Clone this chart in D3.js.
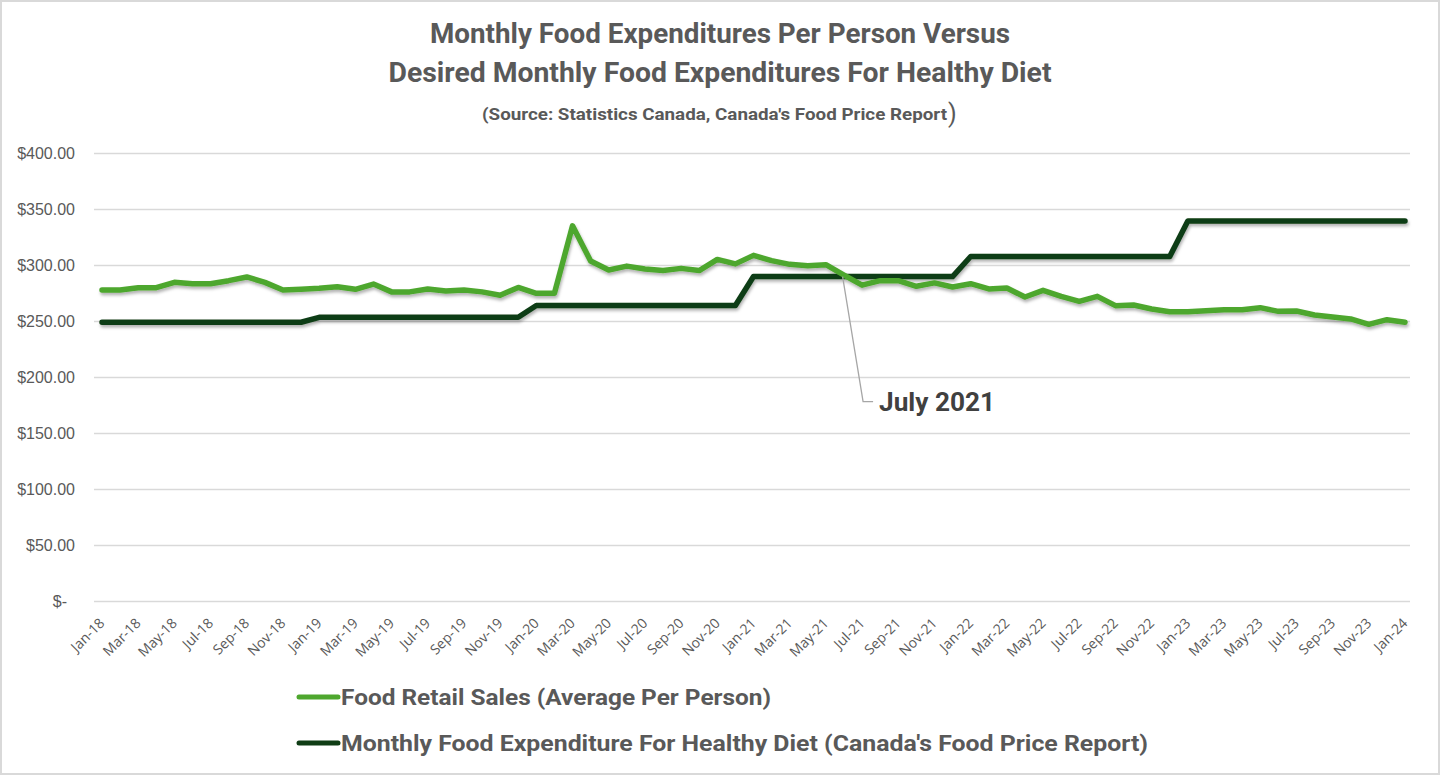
<!DOCTYPE html>
<html>
<head>
<meta charset="utf-8">
<script src="https://cdn.jsdelivr.net/npm/d3@7"></script>
<style>
  html, body { margin: 0; padding: 0; background: #ffffff; }
  svg { display: block; }
</style>
</head>
<body>
<svg id="chart" width="1440" height="775"></svg>
<script>
// ---------------- DATA ----------------
const titleLines = [
  "Monthly Food Expenditures Per Person Versus",
  "Desired Monthly Food Expenditures For Healthy Diet"
];
const subtitle = "(Source: Statistics Canada, Canada's Food Price Report";

// Monthly categories Jan-18 .. Jan-24
const months = d3.timeMonths(new Date(2018, 0, 1), new Date(2024, 1, 1)).map(d3.timeFormat("%b-%y"));

// Food Retail Sales (Average Per Person), $ per month
const retailSales = [
  277.7, 277.7, 279.7, 279.7, 284.5, 283.3, 283.3, 286.0, 289.3, 284.5, 277.7, 278.3,
  279.2, 280.6, 278.3, 283.0, 276.0, 276.0, 278.6, 276.8, 277.7, 276.0, 273.0, 280.0,
  274.7, 274.7, 335.0, 303.6, 295.5, 299.0, 296.4, 295.0, 297.0, 295.0, 305.0, 301.0,
  308.6, 303.9, 300.6, 299.4, 300.3, 291.0, 282.0, 286.0, 286.0, 281.0, 284.0, 280.4,
  283.3, 278.6, 279.5, 271.4, 277.4, 272.0, 267.6, 272.0, 263.7, 264.3, 260.7, 258.3,
  258.3, 259.2, 260.1, 260.1, 261.9, 258.6, 258.9, 255.4, 253.6, 251.8, 247.0, 251.2,
  248.8
];

// Monthly Food Expenditure For Healthy Diet (Canada's Food Price Report), $ per month
const healthyDiet = [
  248.9, 248.9, 248.9, 248.9, 248.9, 248.9, 248.9, 248.9, 248.9, 248.9, 248.9, 248.9,
  253.3, 253.3, 253.3, 253.3, 253.3, 253.3, 253.3, 253.3, 253.3, 253.3, 253.3, 253.3,
  263.9, 263.9, 263.9, 263.9, 263.9, 263.9, 263.9, 263.9, 263.9, 263.9, 263.9, 263.9,
  289.7, 289.7, 289.7, 289.7, 289.7, 289.7, 289.7, 289.7, 289.7, 289.7, 289.7, 289.7,
  307.6, 307.6, 307.6, 307.6, 307.6, 307.6, 307.6, 307.6, 307.6, 307.6, 307.6, 307.6,
  339.3, 339.3, 339.3, 339.3, 339.3, 339.3, 339.3, 339.3, 339.3, 339.3, 339.3, 339.3,
  339.3
];

const yTicks = [0, 50, 100, 150, 200, 250, 300, 350, 400];
const seriesNames = [
  "Food Retail Sales (Average Per Person)",
  "Monthly Food Expenditure For Healthy Diet (Canada's Food Price Report)"
];
const annotation = { label: "July 2021", month: "Jul-21", value: 178 };

// ---------------- DRAW ----------------
const svg = d3.select("#chart");
const W = 1440, H = 775;
const colors = ["#4ea72e", "#0f3d15"];
const textGray = "#595959";

const x = d3.scalePoint().domain(months).range([102, 1405]);
const y = d3.scaleLinear().domain([0, 400]).range([601, 153]);

// defs: shadow
const defs = svg.append("defs");
const f = defs.append("filter").attr("id", "shadow").attr("x", "-5%").attr("y", "-20%").attr("width", "110%").attr("height", "160%");
f.append("feDropShadow").attr("dx", 1).attr("dy", 2.5).attr("stdDeviation", 1.4)
  .attr("flood-color", "#000").attr("flood-opacity", 0.3);

// background + border
svg.append("rect").attr("x", 1).attr("y", 1).attr("width", W - 2).attr("height", H - 2)
  .attr("fill", "#fff").attr("stroke", "#d9d9d9").attr("stroke-width", 2);

// Title
const title = svg.append("g").attr("font-family", "Roboto, 'Noto Sans', sans-serif")
  .attr("font-weight", 700).attr("fill", textGray);
title.append("text").attr("x", 720).attr("y", 43).attr("text-anchor", "middle")
  .attr("font-size", 27).attr("textLength", 580).attr("lengthAdjust", "spacingAndGlyphs")
  .text(titleLines[0]);
title.append("text").attr("x", 720).attr("y", 82).attr("text-anchor", "middle")
  .attr("font-size", 27).attr("textLength", 663).attr("lengthAdjust", "spacingAndGlyphs")
  .text(titleLines[1]);
title.append("text").attr("x", 482).attr("y", 120).attr("text-anchor", "start")
  .attr("font-size", 17).attr("textLength", 465).attr("lengthAdjust", "spacingAndGlyphs")
  .text(subtitle);
title.append("text").attr("x", 948).attr("y", 122).attr("text-anchor", "start")
  .attr("font-size", 25).attr("font-weight", 400).text(")");

// Y axis (gridlines + labels)
const yAxis = d3.axisLeft(y).tickValues(yTicks)
  .tickSize(-(1410 - 94)).tickPadding(19)
  .tickFormat(d => d === 0 ? "$-" : "$" + d3.format(",.2f")(d));
const gy = svg.append("g").attr("transform", "translate(94,0)").call(yAxis);
gy.select(".domain").remove();
gy.selectAll(".tick line").attr("stroke", "#d9d9d9").attr("stroke-width", 1.3);
gy.selectAll(".tick text").attr("fill", textGray)
  .attr("font-family", "'Liberation Sans', Arial, sans-serif").attr("font-size", 16)
  .attr("dx", d => d === 0 ? -8 : 0);

// X axis labels (every other month)
const xAxis = d3.axisBottom(x).tickValues(months.filter((m, i) => i % 2 === 0))
  .tickSize(0).tickPadding(0);
const gx = svg.append("g").attr("transform", "translate(0,601)").call(xAxis);
gx.select(".domain").remove();
gx.selectAll(".tick text")
  .attr("fill", textGray).attr("font-family", "'Open Sans', sans-serif").attr("font-size", 14)
  .attr("text-anchor", "end").attr("dy", 0).attr("y", 0)
  .attr("transform", "translate(3,23) rotate(-45)");

// Lines
const series = [retailSales, healthyDiet];
const line = d3.line().x((d, i) => x(months[i])).y(d => y(d));
const gl = svg.append("g").attr("filter", "url(#shadow)");
[1, 0].forEach(k => {
  gl.append("path").datum(series[k]).attr("d", line)
    .attr("fill", "none").attr("stroke", colors[k]).attr("stroke-width", 5.5)
    .attr("stroke-linejoin", "round").attr("stroke-linecap", "round");
});

// Annotation: leader from crossing point (green drops below dark)
let ci = retailSales.findIndex((v, i) => i > 30 && retailSales[i - 1] >= healthyDiet[i - 1] && v < healthyDiet[i]);
const t = (retailSales[ci - 1] - healthyDiet[ci - 1]) /
          ((retailSales[ci - 1] - healthyDiet[ci - 1]) - (retailSales[ci] - healthyDiet[ci]));
const cx = x(months[ci - 1]) + t * (x(months[ci]) - x(months[ci - 1]));
const cy = y(healthyDiet[ci - 1]);
const ax = x(annotation.month) + 1, ay = y(annotation.value);
svg.append("path")
  .attr("d", `M${cx - 4},${cy} L${ax},${ay} L${ax + 10},${ay}`)
  .attr("fill", "none").attr("stroke", "#a6a6a6").attr("stroke-width", 1.3);
svg.append("text").attr("x", ax + 16).attr("y", ay).attr("dy", "0.36em")
  .attr("font-family", "Roboto, sans-serif").attr("font-weight", 700).attr("font-size", 26)
  .attr("fill", "#404040").attr("textLength", 116).attr("lengthAdjust", "spacingAndGlyphs")
  .text(annotation.label);

// Legend
const legendY = [697, 743];
const legendW = [430, 807];
const lg = svg.append("g");
seriesNames.forEach((name, k) => {
  lg.append("line").attr("x1", 299).attr("x2", 338).attr("y1", legendY[k]).attr("y2", legendY[k])
    .attr("stroke", colors[k]).attr("stroke-width", 5).attr("stroke-linecap", "round");
  lg.append("text").attr("x", 341).attr("y", legendY[k] + 8)
    .attr("font-family", "Roboto, sans-serif").attr("font-weight", 700).attr("font-size", 22)
    .attr("fill", textGray).attr("textLength", legendW[k]).attr("lengthAdjust", "spacingAndGlyphs")
    .text(name);
});
</script>
</body>
</html>
